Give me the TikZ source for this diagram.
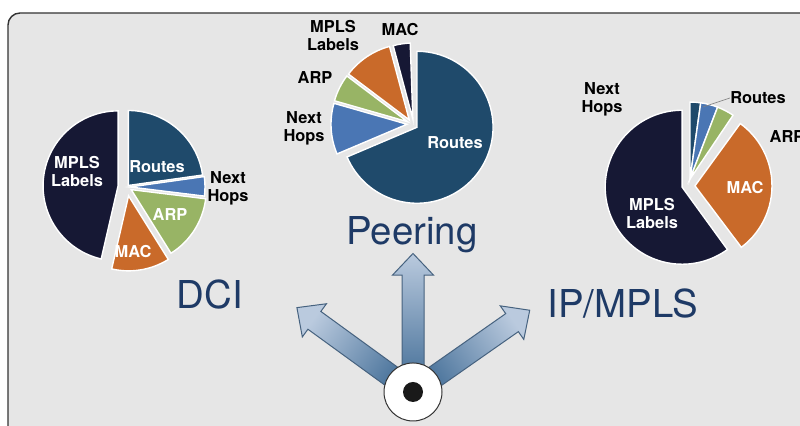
\documentclass[tikz,border=0pt]{standalone}
\usepackage{fontspec}
\setmainfont{TeX Gyre Heros}
\usepackage{tikz}
\usetikzlibrary{shapes.arrows}

\definecolor{bgGray}{HTML}{E6E6E6}
\definecolor{pieNavy}{HTML}{161834}
\definecolor{pieTeal}{HTML}{1F4A6B}
\definecolor{pieBlue}{HTML}{4A76B4}
\definecolor{pieGreen}{HTML}{98B465}
\definecolor{pieOrange}{HTML}{C96A2A}
\definecolor{titleBlue}{HTML}{1E3A66}
\definecolor{arrowLight}{HTML}{BACADE}
\definecolor{arrowDark}{HTML}{3E6A94}
\definecolor{arrowEdge}{HTML}{46627F}

\begin{document}
\begin{tikzpicture}[x=0.5pt, y=0.5pt,
        slice/.style={draw=white, line width=0.7pt},
        inlabel/.style={text=white, font=\fontsize{8.2}{9}\selectfont\bfseries, align=center, inner sep=0},
        outlabel/.style={text=black, font=\fontsize{8.2}{9}\selectfont\bfseries, align=center, inner sep=0},
        title/.style={text=titleBlue, font=\fontsize{19.2}{19.2}\selectfont, inner sep=0, anchor=base},
        bigarrow/.style={single arrow, draw=arrowEdge, line width=0.5pt, minimum width=20pt, inner sep=5.25pt,
            single arrow head extend=4.75pt, single arrow tip angle=87, anchor=tail,
            shading=axis, top color=arrowLight, bottom color=arrowDark}]
            \useasboundingbox (0,0) rectangle (800,426);
            \draw [fill=bgGray, draw=black!80, line width=0.7pt, rounded corners=6pt] (8,413) rectangle (820,-20);

            % DCI
            \coordinate (dci) at (127,239);
            \path [slice, fill=pieNavy] (dci) ++(173:9) -- +(90:75) arc [start angle=90, end angle=257, radius=75] -- cycle;
            \path [slice, fill=pieTeal] (dci) ++(49:2) -- +(8:75) arc [start angle=8, end angle=90, radius=75] -- cycle;
            \path [slice, fill=pieBlue] (dci) ++(0:3) -- +(-7:75) arc [start angle=-7, end angle=8, radius=75] -- cycle;
            \path [slice, fill=pieGreen] (dci) ++(-32:5) -- +(-58:75) arc [start angle=-58, end angle=-7, radius=75] -- cycle;
            \path [slice, fill=pieOrange] (dci) ++(-80:9) -- +(-103:75) arc [start angle=-103, end angle=-58, radius=75] -- cycle;
            \node [inlabel] (mplsL) at (77,254) {MPLS\\Labels};
            \node [inlabel] (routesL) at (157,259) {Routes};
            \node [outlabel] (hopsL) at (228,238) {Next\\Hops};
            \node [inlabel] (arpL) at (170,211) {ARP};
            \node [inlabel] (macL) at (133,174) {MAC};

            % Peering
            \coordinate (peer) at (412,302);
            \path [slice, fill=pieTeal] (peer) ++(-33:6) -- +(-157:76) arc [start angle=-157, end angle=90, radius=76] -- cycle;
            \path [slice, fill=pieBlue] (peer) ++(183:5) -- +(164:76) arc [start angle=164, end angle=203, radius=76] -- cycle;
            \path [slice, fill=pieGreen] (peer) ++(153:5) -- +(143:76) arc [start angle=143, end angle=164, radius=76] -- cycle;
            \path [slice, fill=pieOrange] (peer) ++(124:5) -- +(105:76) arc [start angle=105, end angle=143, radius=76] -- cycle;
            \path [slice, fill=pieNavy] (peer) ++(80:5) -- +(92:76) arc [start angle=92, end angle=105, radius=76] -- cycle;
            \node [outlabel] (mplsP) at (333,390) {MPLS\\Labels};
            \node [outlabel] (macP) at (400,396) {MAC};
            \node [outlabel] (arpP) at (315,348) {ARP};
            \node [outlabel] (hopsP) at (304,298) {Next\\Hops};
            \node [inlabel] (routesP) at (455,283) {Routes};

            % IP/MPLS
            \coordinate (ipm) at (686,240);
            \path [slice, fill=pieNavy] (ipm) ++(198:4) -- +(90:77) arc [start angle=90, end angle=306, radius=77] -- cycle;
            \path [slice, fill=pieTeal] (ipm) ++(60:8) -- +(82:77) arc [start angle=82, end angle=90, radius=77] -- cycle;
            \path [slice, fill=pieBlue] (ipm) ++(60:8) -- +(69:77) arc [start angle=69, end angle=82, radius=77] -- cycle;
            \path [slice, fill=pieGreen] (ipm) ++(60:8) -- +(56:77) arc [start angle=56, end angle=69, radius=77] -- cycle;
            \path [slice, fill=pieOrange] (ipm) ++(1:9) -- +(-53:77) arc [start angle=-53, end angle=54, radius=77] -- cycle;
            \node [outlabel] (hopsR) at (602,327) {Next\\Hops};
            \node [outlabel] (routesR) at (758,328) {Routes};
            \node [outlabel] (arpR) at (787,289) {ARP};
            \node [inlabel] (macR) at (745,238) {MAC};
            \node [inlabel] (mplsR) at (652,212) {MPLS\\Labels};
            \coordinate (routesTip) at (703,319);
            \draw [gray, line width=0.3pt] (routesR.west) -- (routesTip);

            % arrows
            \coordinate (hub) at (413,34);
            \node [bigarrow, rotate=144, shading angle=54, minimum height=71.5pt] (dArrow) at (hub) {};
            \node [bigarrow, rotate=90, shading angle=0, minimum height=69pt] (pArrow) at (hub) {};
            \node [bigarrow, rotate=35, shading angle=-55, minimum height=71pt] (iArrow) at (hub) {};
            \node [circle, draw=black!80, fill=white, line width=0.5pt, minimum size=29pt] (ring) at (hub) {};
            \node [circle, fill=black!90, minimum size=10pt, inner sep=0] (dot) at (hub) {};

            \node [title] (dciT) at (210,117) {DCI};
            \node [title] (peeringT) at (412,181) {Peering};
            \node [title] (ipmT) at (623,108) {IP/MPLS};
        \end{tikzpicture}
\end{document}
